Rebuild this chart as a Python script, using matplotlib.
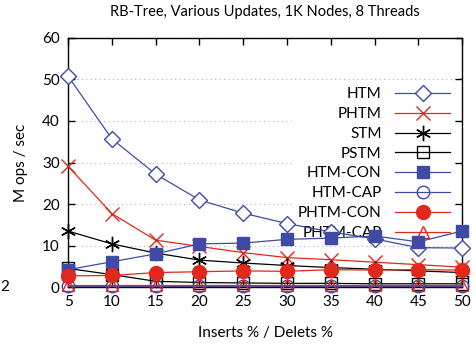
import matplotlib.pyplot as plt

plt.rcParams["font.family"] = ["Lato", "DejaVu Sans"]

inserts = [5, 10, 15, 20, 25, 30, 35, 40, 45, 50]
htm = [50.8, 35.7, 27.2, 21.0, 17.8, 15.3, 13.3, 11.6, 9.5, 9.4]
phtm = [29.1, 17.7, 11.3, 9.8, 8.3, 7.1, 6.6, 6.0, 5.4, 4.8]
stm = [13.5, 10.4, 8.2, 6.5, 5.8, 5.2, 4.7, 4.3, 3.9, 3.5]
pstm = [4.5, 3.0, 1.4, 1.1, 1.0, 0.9, 0.9, 0.8, 0.8, 0.8]
htm_con = [4.2, 6.1, 8.0, 10.4, 10.6, 11.5, 11.8, 12.3, 10.9, 13.5]
htm_cap = [0.2, 0.2, 0.2, 0.2, 0.2, 0.2, 0.2, 0.2, 0.2, 0.2]
phtm_con = [2.7, 2.8, 3.5, 3.7, 3.9, 3.8, 4.2, 4.1, 4.2, 4.1]
phtm_cap = [0.4, 0.4, 0.4, 0.4, 0.4, 0.4, 0.4, 0.4, 0.4, 0.4]

BLUE = "#3f4aa6"
RED = "#e0281c"

series = [
    ("HTM", htm, BLUE, dict(marker="D", mfc="white", ms=8)),
    ("PHTM", phtm, RED, dict(marker="x", ms=10, mew=1.0)),
    ("STM", stm, "black", dict(marker=(6, 2, 0), ms=11, mew=1.0)),
    ("PSTM", pstm, "black", dict(marker="s", mfc="none", ms=9)),
    ("HTM-CON", htm_con, BLUE, dict(marker="s", ms=9)),
    ("HTM-CAP", htm_cap, BLUE, dict(marker="o", mfc="none", ms=9)),
    ("PHTM-CON", phtm_con, RED, dict(marker="o", ms=10)),
    ("PHTM-CAP", phtm_cap, RED, dict(marker="^", mfc="none", ms=9)),
]

fig = plt.figure(figsize=(4.76, 3.48), dpi=100)
ax = fig.add_axes([0.143, 0.175, 0.828, 0.716])

for name, values, color, style in series:
    ax.plot(inserts, values, color=color, lw=0.9, label=name, clip_on=False,
            zorder=3, **style)

ax.set_xlim(5, 50)
ax.set_ylim(0, 60)
ax.set_xticks(inserts)
ax.set_yticks([0, 10, 20, 30, 40, 50, 60])
ax.tick_params(direction="in", top=True, right=True, length=5, width=1,
               labelsize=11, pad=6)
ax.yaxis.grid(True, color="#b0b0b0", linestyle=(0, (1, 3)), lw=0.8)
ax.set_axisbelow(True)
for spine in ax.spines.values():
    spine.set_linewidth(1.0)

ax.set_xlabel("Inserts % / Delets %", fontsize=11, labelpad=12)
ax.set_ylabel("M ops / sec", fontsize=11, labelpad=10)
ax.set_title("RB-Tree, Various Updates, 1K Nodes, 8 Threads", fontsize=10.5, pad=16)

leg = ax.legend(loc="upper right", bbox_to_anchor=(0.997, 0.845), frameon=True,
                markerfirst=False, fontsize=11, handlelength=3.6,
                labelspacing=0.38, borderpad=0.2, handletextpad=0.9,
                framealpha=1.0)
leg.get_frame().set_edgecolor("none")
for t in leg.get_texts():
    t.set_ha("right")
leg.set_zorder(2)

fig.text(0.0, 1 - 287 / 348, "2", fontsize=11, va="center", ha="left")

fig.savefig("out.png", dpi=100)
